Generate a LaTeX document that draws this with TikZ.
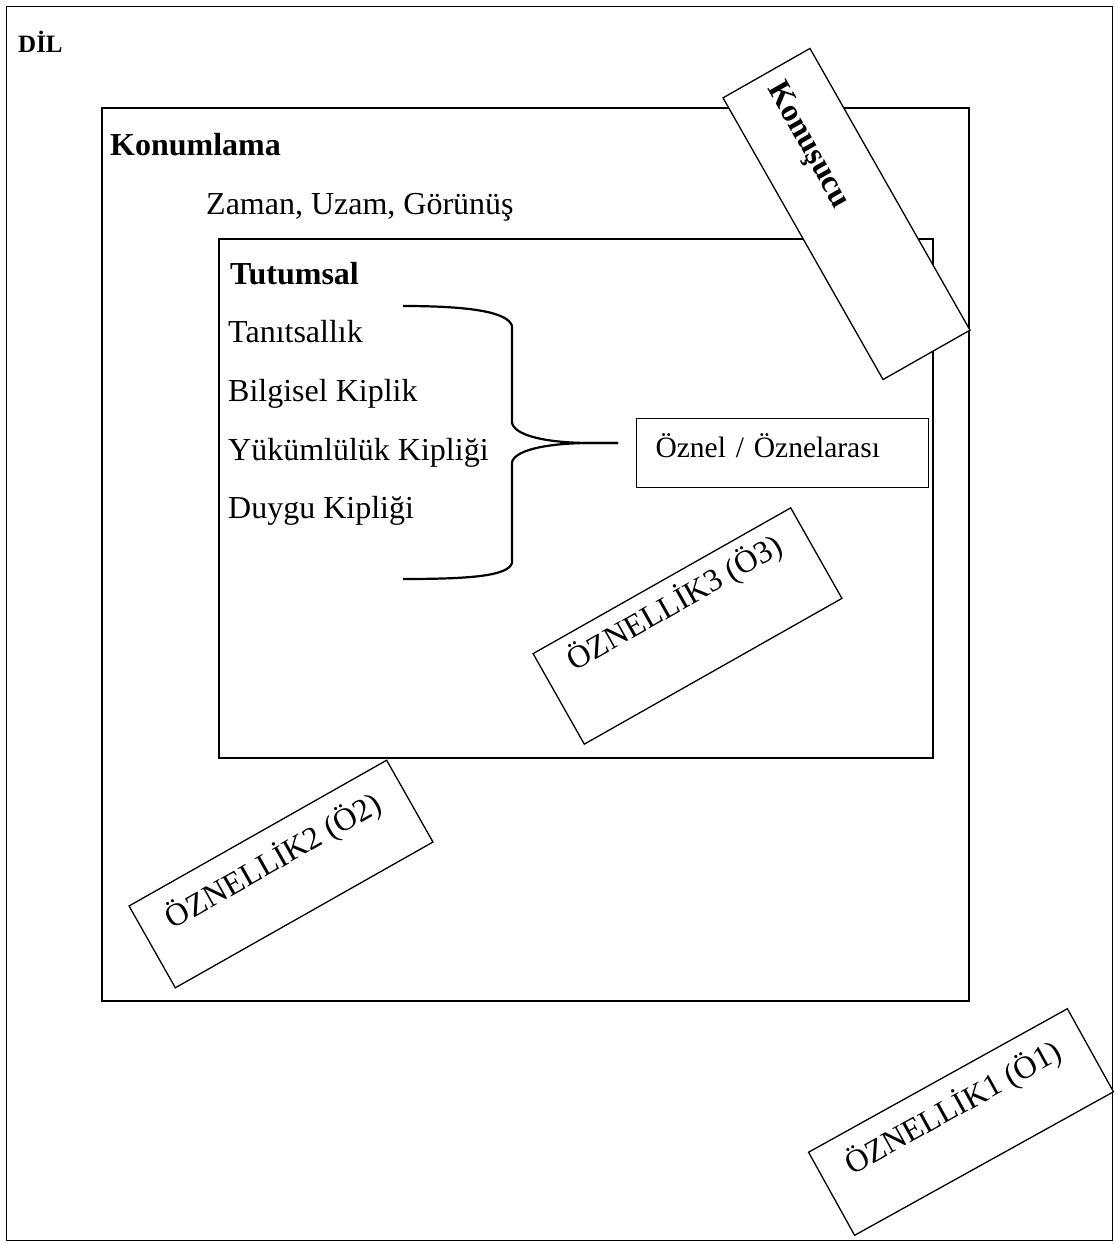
\documentclass[tikz,border=0pt]{standalone}
\usepackage{fontspec}
\setmainfont{Liberation Serif}
\begin{document}
\begin{tikzpicture}[x=1pt,y=-1pt,
  frame/.style={draw, line width=1.6pt, inner sep=0pt, anchor=north west},
  txt/.style={anchor=base west, inner sep=0pt, font=\fontsize{32}{38}\selectfont},
  head/.style={anchor=base west, inner sep=0pt, font=\fontsize{32}{38}\selectfont\bfseries},
  tilted/.style={draw, fill=white, line width=1.3pt, inner xsep=0pt, inner ysep=0pt,
    minimum width=296pt, rotate=29.5, font=\fontsize{32}{38}\selectfont},
  brace/.style={line width=2.2pt}]
\fill[white] (0,0) rectangle (1114,1244);
\useasboundingbox (0,0) rectangle (1114,1244);

% outer frame: language
\node[frame, line width=1.4pt, minimum width=1106pt, minimum height=1234pt] (dil) at (6,6) {};
\node[head, font=\fontsize{25}{30}\selectfont\bfseries] (diltitle) at (18,53) {DİL};

% positioning frame
\node[frame, minimum width=867pt, minimum height=893pt] (konum) at (101,107) {};
\node[head] (konumtitle) at (110,155) {Konumlama};
\node[txt] (zug) at (206,214) {Zaman, Uzam, Görünüş};

% attitudinal frame
\node[frame, minimum width=714pt, minimum height=519pt] (tutum) at (218,238) {};
\node[head] (tutumtitle) at (230,284) {Tutumsal};
\node[txt] (k1) at (228,342) {Tanıtsallık};
\node[txt] (k2) at (228,401) {Bilgisel Kiplik};
\node[txt] (k3) at (228,460) {Yükümlülük Kipliği};
\node[txt] (k4) at (228,518) {Duygu Kipliği};

% subjective / intersubjective box
\node[draw, line width=1.1pt, anchor=north west, inner xsep=19pt, inner ysep=0pt,
  text width=254pt, align=left, text height=39pt, text depth=30pt,
  font=\fontsize{29.5}{35}\selectfont] (oz) at (636,418) {Öznel / Öznelarası};

% curly brace gathering the four modalities
\coordinate (btip) at (618,443);
\draw[brace] (403,306) .. controls (470,306) and (508,312) .. (512,326)
  -- (512,423) .. controls (516,438) and (556,443) .. (590,443) -- (btip);
\draw[brace] (btip) -- (590,443) .. controls (556,443) and (516,448) .. (512,462)
  -- (512,563) .. controls (508,576) and (470,579) .. (403,579);

% speaker
\node[draw, fill=white, line width=1.3pt, rotate=-60.4, minimum height=100pt,
  inner xsep=14pt, inner ysep=0pt, text width=296pt, align=left,
  font=\fontsize{32}{38}\selectfont\bfseries] (konusucu) at (846.5,214) {Konuşucu};

% subjectivity levels
\node[tilted, text height=36pt, text depth=68pt] (o3) at (687.5,626) {ÖZNELLİK3 (Ö3)};
\node[tilted, text height=42pt, text depth=52pt] (o2) at (281,874) {ÖZNELLİK2 (Ö2)};
\node[tilted, rotate=-0.5, text height=41.5pt, text depth=53.5pt] (o1) at (961,1122) {ÖZNELLİK1 (Ö1)};
\end{tikzpicture}
\end{document}
